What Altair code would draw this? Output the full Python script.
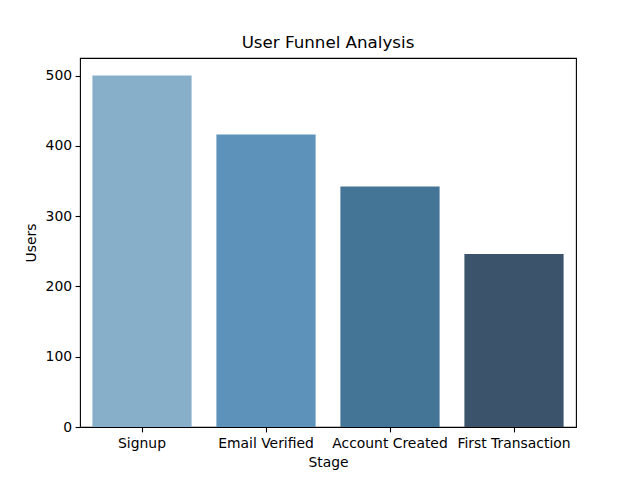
import altair as alt
import pandas as pd

stages = ["Signup", "Email Verified", "Account Created", "First Transaction"]
users = [500, 416, 342, 246]
colors = ["#88afca", "#5d93ba", "#457596", "#3c546b"]

df = pd.DataFrame({"Stage": stages, "Users": users})

font = "DejaVu Sans"

chart = alt.Chart(df).mark_bar().encode(
    x=alt.X("Stage:N", sort=stages,
            scale=alt.Scale(paddingInner=0.2, paddingOuter=0.1),
            axis=alt.Axis(title="Stage", labelAngle=0, tickSize=4.9, labelPadding=5,
                          titlePadding=4.5, domain=False)),
    y=alt.Y("Users:Q", scale=alt.Scale(domain=[0, 525], nice=False),
            axis=alt.Axis(title="Users", values=[0, 100, 200, 300, 400, 500], tickSize=4.9,
                          labelPadding=3.5, titlePadding=7, grid=False, domain=False)),
    color=alt.Color("Stage:N", sort=stages,
                    scale=alt.Scale(domain=stages, range=colors), legend=None),
).properties(
    width=496, height=369,
    title=alt.TitleParams("User Funnel Analysis", font=font, fontSize=16.7,
                          fontWeight="normal", color="black", offset=6, anchor="middle"),
    autosize=alt.AutoSizeParams(type="none"),
    padding={"left": 72, "top": 50, "right": 56, "bottom": 45},
).configure_view(
    stroke="black", strokeWidth=1.1
).configure_axis(
    labelFont=font, titleFont=font, labelFontSize=13.9, titleFontSize=13.9,
    labelColor="black", titleColor="black", tickColor="black", tickWidth=1.1,
    titleFontWeight="normal", grid=False
)

chart.save("out.html", embed_options={"renderer": "svg", "actions": False})
